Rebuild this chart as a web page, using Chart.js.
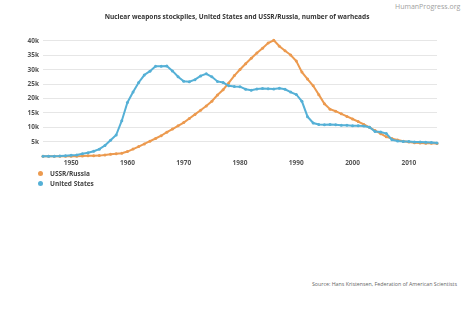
<!DOCTYPE html>
<html>
<head>
<meta charset="utf-8">
<script src="https://cdn.jsdelivr.net/npm/chart.js@4/dist/chart.umd.min.js"></script>
<style>
body{margin:0;background:#fff;font-family:"Open Sans",sans-serif;}
#wrap{position:relative;width:474px;height:321px;}
#chartWrap{position:absolute;left:0;top:0;width:474px;height:170px;}
#brand{position:absolute;left:395px;top:2px;font-size:7px;color:#a0a0a0;}
#legend{position:absolute;left:38px;top:169px;font-size:6.5px;font-weight:bold;color:#444;}
#legend div{height:10px;line-height:10px;white-space:nowrap;}
#legend span.dot{display:inline-block;width:5px;height:5px;border-radius:50%;margin-right:7px;vertical-align:middle;position:relative;top:-1px;}
#source{position:absolute;right:17px;top:280px;font-size:5.3px;color:#666;}
</style>
</head>
<body>
<div id="wrap">
<div id="brand">HumanProgress.org</div>
<div id="chartWrap"><canvas id="chartN"></canvas></div>
<div id="legend"></div>
<div id="source">Source: Hans Kristensen, Federation of American Scientists</div>
</div>
<script>
var years=[];
for(var y=1945;y<=2015;y++) years.push(y);
var tickYears=[1950,1960,1970,1980,1990,2000,2010];
var yTicks=[0,5000,10000,15000,20000,25000,30000,35000,40000];

// USSR/Russia, warheads 1945-2015
var ussr=[0,0,0,0,1,5,25,50,120,150,
  200,426,660,869,1060,1605,2471,3322,4238,5221,
  6129,7089,8339,9399,10538,11643,13092,14478,15915,17385,
  19055,21205,23044,25393,27935,30062,32049,33952,35804,37431,
  39197,40159,38107,36538,35078,32980,29154,26734,24403,21339,
  18179,16300,15600,14700,13800,12900,12000,11000,10000,8900,
  7800,6700,6100,5600,5200,4900,4700,4600,4500,4450,
  4400];
// United States, warheads 1945-2015
var us=[2,9,13,50,170,299,438,841,1169,1703,
  2422,3692,5543,7345,12298,18638,22229,25540,28133,29463,
  31139,31175,31255,29561,27552,26008,25830,26516,27835,28537,
  27519,25914,25542,24418,24138,24104,23208,22886,23305,23459,
  23368,23317,23575,23205,22217,21392,19008,13708,11511,10979,
  10904,11011,10903,10732,10685,10577,10526,10457,10027,8570,
  8360,7853,5709,5273,5113,5066,4897,4881,4804,4717,
  4571];

var seriesNames=['USSR/Russia','United States'];
var seriesColors=['#ec9a4f','#55b0d6'];

var ctx=document.getElementById('chartN');
var chartN=new Chart(ctx,{
  type:'line',
  data:{
    labels:years,
    datasets:[{
      label:seriesNames[0],
      data:ussr,
      borderColor:seriesColors[0],
      backgroundColor:seriesColors[0],
      borderWidth:2,
      pointRadius:1.5,
      pointBorderWidth:0,
      order:1,
      clip:8
    },{
      label:seriesNames[1],
      data:us,
      borderColor:seriesColors[1],
      backgroundColor:seriesColors[1],
      borderWidth:2,
      pointRadius:1.5,
      pointBorderWidth:0,
      order:0,
      clip:8
    }]
  },
  options:{
    responsive:true,
    maintainAspectRatio:false,
    animation:false,
    layout:{padding:0},
    plugins:{
      legend:{display:false},
      tooltip:{enabled:false},
      title:{
        display:true,
        text:'Nuclear weapons stockpiles, United States and USSR/Russia, number of warheads',
        color:'#333',
        font:{family:'Open Sans',size:6.5,weight:'bold'},
        padding:{top:13,bottom:20}
      }
    },
    scales:{
      x:{
        type:'category',
        offset:false,
        grid:{display:false,drawTicks:false},
        border:{display:false},
        ticks:{
          autoSkip:false,
          maxRotation:0,
          padding:3,
          color:'#555',
          font:{family:'Open Sans',size:6.5,weight:'bold'},
          callback:function(v,i){
            var yr=years[i];
            return tickYears.indexOf(yr)>=0?String(yr):null;
          }
        }
      },
      y:{
        min:0,
        max:40000,
        border:{display:false},
        grid:{
          drawTicks:false,
          color:function(c){return c.tick&&c.tick.value===0?'rgba(0,0,0,0)':'#e6e6e6';},
          lineWidth:1
        },
        afterBuildTicks:function(s){s.ticks=yTicks.map(function(v){return {value:v};});},
        afterFit:function(s){s.width=43;},
        ticks:{
          padding:4,
          color:'#555',
          font:{family:'Open Sans',size:6.5,weight:'bold'},
          callback:function(v){return v===0?'':(v/1000)+'k';}
        }
      },
      // empty right-hand gutter so the plot stops short of the edge
      yRight:{
        position:'right',
        grid:{display:false,drawTicks:false},
        border:{display:false},
        ticks:{display:false},
        afterFit:function(s){s.width=37;}
      }
    }
  }
});

// legend stacked vertically, built from the chart's own legend items (dataset order)
var items=chartN.options.plugins.legend.labels.generateLabels(chartN);
items.sort(function(a,b){return a.datasetIndex-b.datasetIndex;});
var leg=document.getElementById('legend');
items.forEach(function(it){
  var d=document.createElement('div');
  var s=document.createElement('span');
  s.className='dot';
  s.style.background=it.fillStyle;
  d.appendChild(s);
  d.appendChild(document.createTextNode(it.text));
  leg.appendChild(d);
});
</script>
</body>
</html>
